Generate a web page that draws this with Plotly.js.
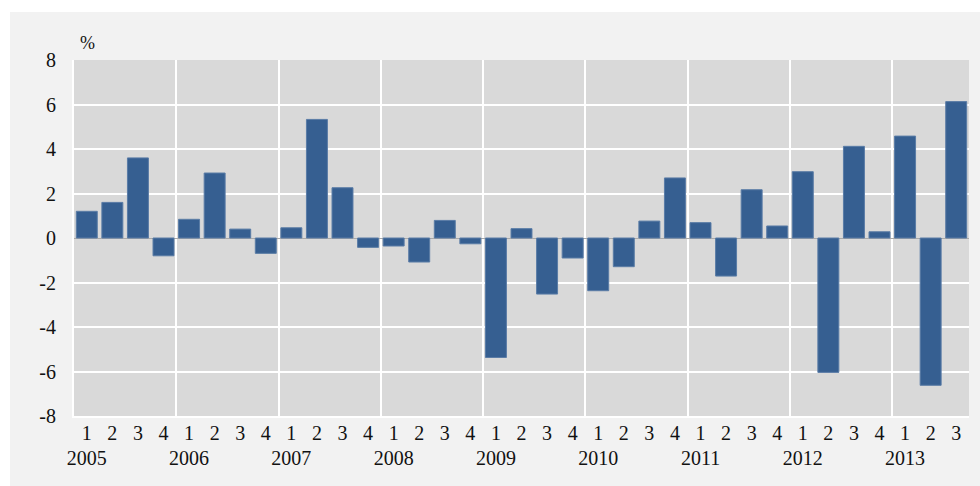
<!DOCTYPE html>
<html><head><meta charset="utf-8">
<script src="https://cdn.plot.ly/plotly-3.0.1.min.js"></script>
<style>html,body{margin:0;padding:0;background:#fff;}#wrap{position:absolute;left:10px;top:12px;width:970px;height:474px;}</style>
</head><body><div id="wrap"></div>
<script>
const years = ['2005','2006','2007','2008','2009','2010','2011','2012','2013'];
const quarters = ['1','2','3','4'];
const values = [
  1.2, 1.6, 3.6, -0.8,
  0.84, 2.92, 0.4, -0.69,
  0.46, 5.33, 2.26, -0.42,
  -0.36, -1.08, 0.79, -0.26,
  -5.37, 0.42, -2.52, -0.9,
  -2.37, -1.29, 0.76, 2.7,
  0.69, -1.71, 2.17, 0.54,
  2.98, -6.04, 4.12, 0.28,
  4.58, -6.62, 6.13
];
const yTicks = [-8,-6,-4,-2,0,2,4,6,8];

const idx = values.map((v,i)=>i);
const qText = values.map((v,i)=>quarters[i%4]);
const yearPos = years.map((y,i)=>i*4);
const bounds = years.slice(1).map((y,i)=>(i+1)*4-0.5);
const font = {family:'"Liberation Serif", "Times New Roman", serif', size:20, color:'#111'};

const data = [{
  type:'bar', x: idx, y: values,
  marker:{color:'#365f91', line:{color:'#5a7ca6', width:1}},
  hoverinfo:'skip'
}];
const layout = {
  width:970, height:474,
  margin:{l:64, r:11, t:48, b:70},
  paper_bgcolor:'#f2f2f2', plot_bgcolor:'#d9d9d9',
  bargap:0.18, showlegend:false, font: font,
  xaxis:{range:[-0.5, values.length-0.5], tickvals: idx, ticktext: qText,
    showgrid:false, zeroline:false, ticks:'', tickfont:font, ticklabelstandoff:-2,
    showline:true, linecolor:'#ffffff', linewidth:2},
  xaxis2:{overlaying:'x', range:[-0.5, values.length-0.5], tickvals: bounds,
    showticklabels:false, showgrid:true, gridcolor:'#ffffff', gridwidth:2, zeroline:false, ticks:''},
  xaxis3:{overlaying:'x', range:[-0.5, values.length-0.5], tickvals: yearPos, ticktext: years,
    showgrid:false, zeroline:false, ticks:'', tickfont:font, ticklabelstandoff:28},
  yaxis:{range:[-8,8], tickvals: yTicks, ticktext: yTicks.map(String), showgrid:true,
    gridcolor:'#ffffff', gridwidth:2, zeroline:true, zerolinecolor:'#a9a9a9', zerolinewidth:1,
    ticks:'', tickfont:font, ticklabelstandoff:12, showline:true, linecolor:'#ffffff', linewidth:2},
  annotations:[{text:'%', xref:'paper', yref:'paper', x:0.0, y:1, xanchor:'left', yanchor:'bottom',
    xshift:4, yshift:5, showarrow:false, font:{family:font.family, size:18, color:'#111'}}]
};
// dummy traces to activate the overlay axes
data.push({type:'scatter', x:[0], y:[0], xaxis:'x2', mode:'markers', marker:{opacity:0}, hoverinfo:'skip'});
data.push({type:'scatter', x:[0], y:[0], xaxis:'x3', mode:'markers', marker:{opacity:0}, hoverinfo:'skip'});
Plotly.newPlot('wrap', data, layout, {displayModeBar:false, staticPlot:true});
</script></body></html>
